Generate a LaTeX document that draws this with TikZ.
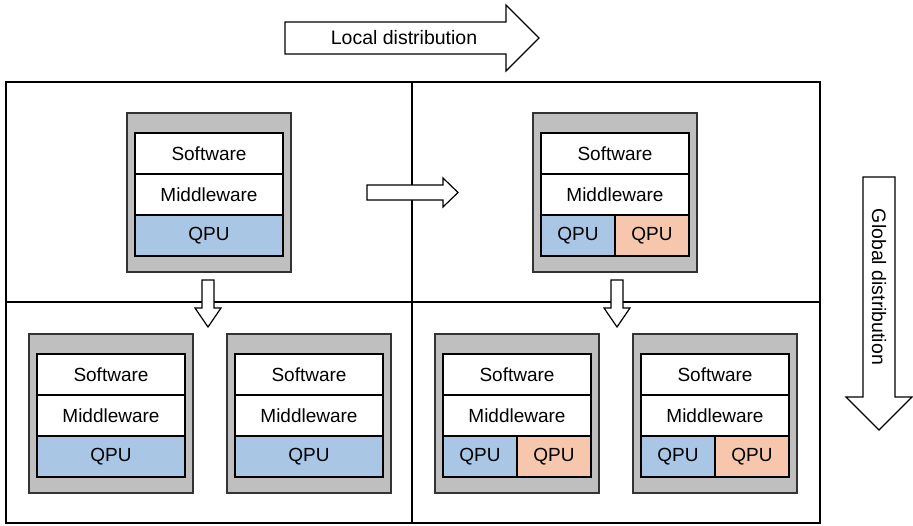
\documentclass[tikz,border=0pt]{standalone}
\usepackage{fontspec}
\setmainfont{Liberation Sans}
\definecolor{grayfill}{RGB}{191,191,191}
\definecolor{qblue}{RGB}{169,199,228}
\definecolor{qpeach}{RGB}{246,198,173}
\tikzset{
  layer/.style={draw=black, line width=1.2pt, minimum height=41pt, inner sep=0pt, outer sep=0pt, anchor=north west, font=\fontsize{19}{22}\selectfont},
  wide/.style={layer, minimum width=148pt},
  half/.style={layer, minimum width=74pt},
  graybox/.style={draw=black!80, line width=1.4pt, fill=grayfill, minimum width=164pt, minimum height=159pt, inner sep=0pt, outer sep=0pt, anchor=north west},
  blockarrow/.style={draw=black, line width=1.2pt, fill=white, line join=miter},
  frame/.style={draw=black, line width=1.3pt},
  arrowtext/.style={font=\fontsize{19.5}{22}\selectfont},
  pics/stackone/.style={code={
    \node[graybox] (-box) at (0,0) {};
    \node[wide, fill=white] (-sw) at (8,20) {Software};
    \node[wide, fill=white] (-mw) at (8,61) {Middleware};
    \node[wide, fill=qblue] (-q) at (8,102) {QPU};
  }},
  pics/stacktwo/.style={code={
    \node[graybox] (-box) at (0,0) {};
    \node[wide, fill=white] (-sw) at (8,20) {Software};
    \node[wide, fill=white] (-mw) at (8,61) {Middleware};
    \node[half, fill=qblue] (-qa) at (8,102) {QPU};
    \node[half, fill=qpeach] (-qb) at (82,102) {QPU};
  }},
}
\begin{document}
\begin{tikzpicture}[x=1pt, y=-1pt]
\useasboundingbox (0,0) rectangle (913,525);
% frame
\draw[frame] (6,82) rectangle (820,523);
\draw[frame] (412,82) -- (412,523);
\draw[frame] (6,302) -- (820,302);
% stacks
\pic (tl) at (127,113) {stackone};
\pic (tr) at (533,113) {stacktwo};
\pic (bl1) at (29,334) {stackone};
\pic (bl2) at (227,334) {stackone};
\pic (br1) at (435,334) {stacktwo};
\pic (br2) at (633,334) {stacktwo};
% top arrow
\draw[blockarrow] (285,22) -- (506,22) -- (506,5) -- (539,38) -- (506,71) -- (506,54) -- (285,54) -- cycle;
\node[arrowtext] (local) at (404,38) {Local distribution};
% middle arrow
\draw[blockarrow] (367,185) -- (443,185) -- (443,178) -- (458,192.5) -- (443,207) -- (443,200) -- (367,200) -- cycle;
% down arrows
\draw[blockarrow] (202,280) -- (214,280) -- (214,308) -- (221,308) -- (208,327) -- (195,308) -- (202,308) -- cycle;
\draw[blockarrow] (611,280) -- (623,280) -- (623,308) -- (630,308) -- (617,327) -- (604,308) -- (611,308) -- cycle;
% global arrow
\draw[blockarrow] (863,177) -- (895,177) -- (895,397) -- (912,397) -- (879,430) -- (846,397) -- (863,397) -- cycle;
\node[arrowtext, rotate=-90] (global) at (879,287) {Global distribution};
\end{tikzpicture}
\end{document}
